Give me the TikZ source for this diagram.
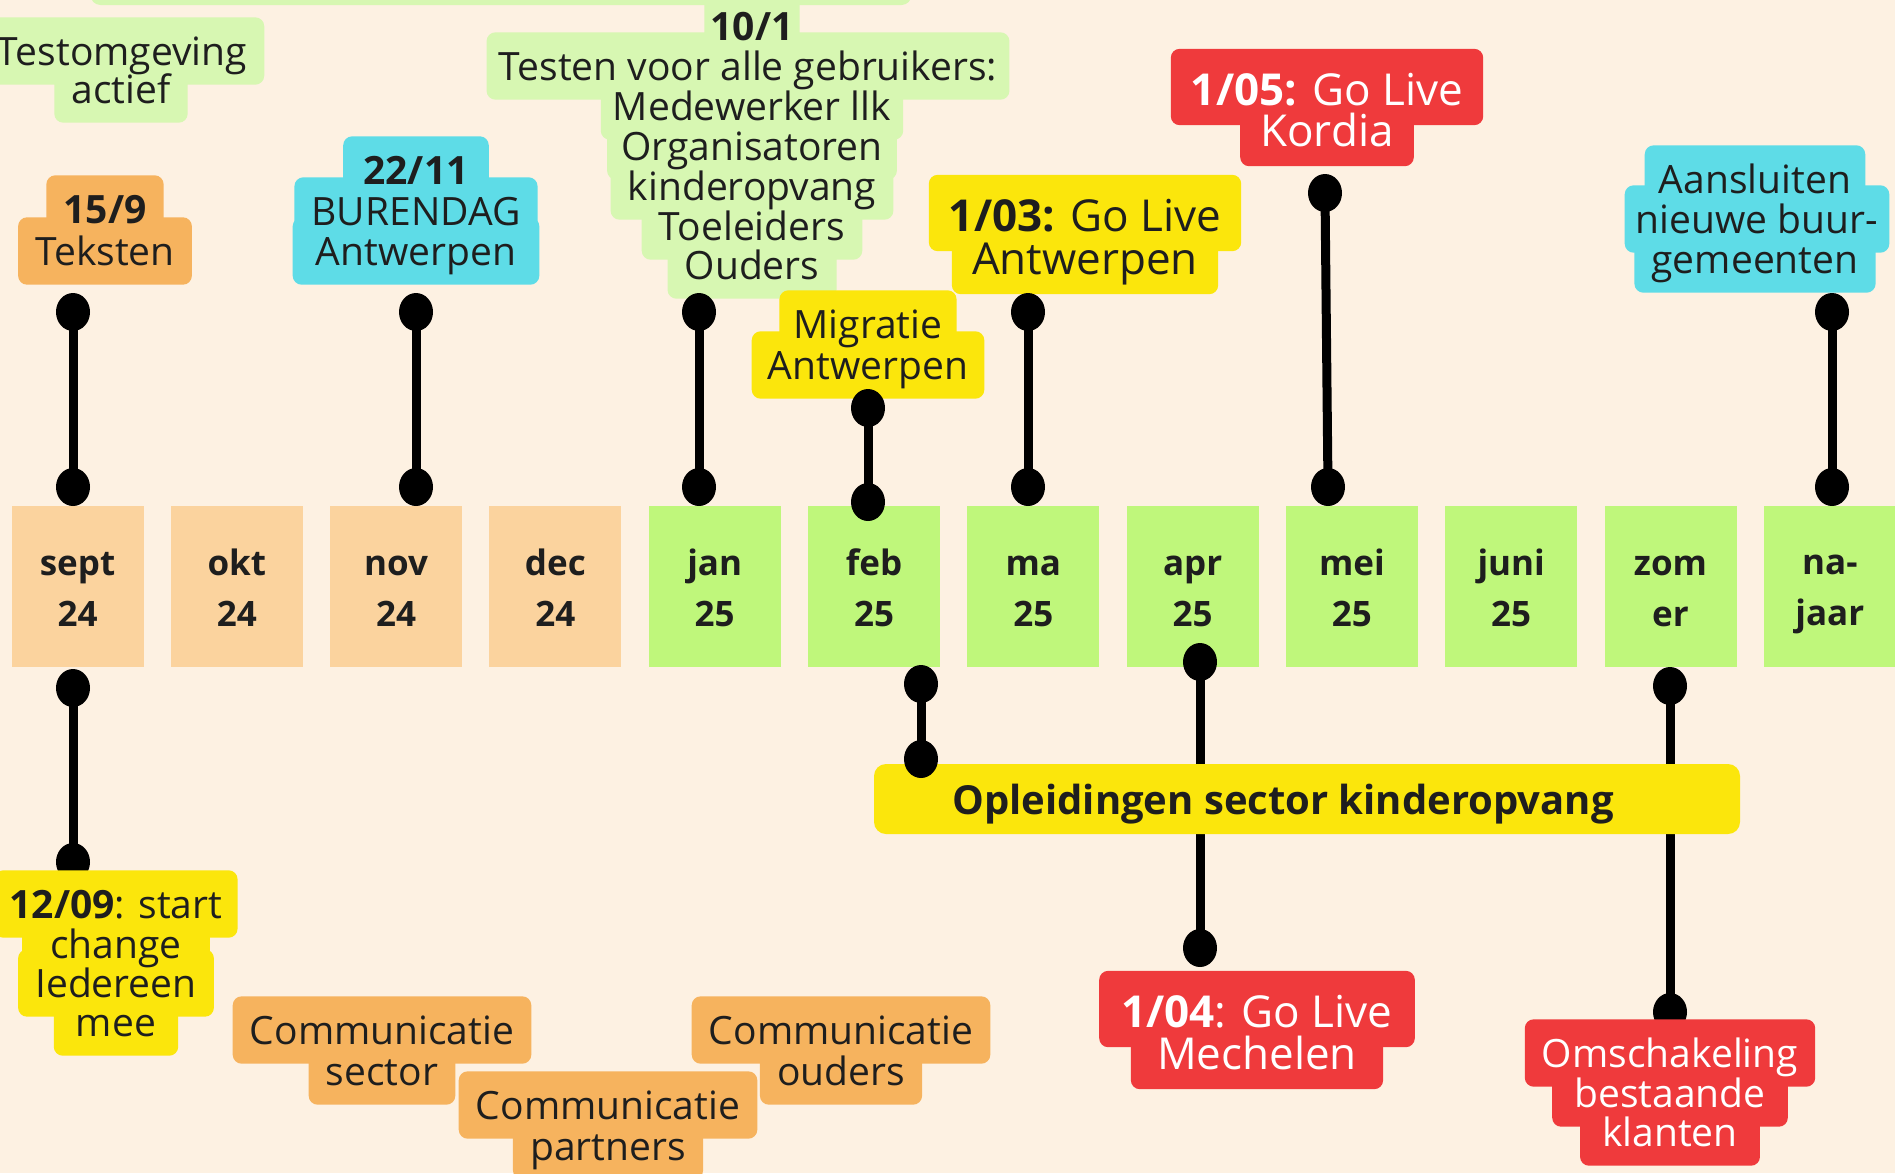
\documentclass[tikz,border=0pt]{standalone}
\usepackage{fontspec}
\setmainfont{Open Sans}
\usetikzlibrary{shapes.geometric}
\definecolor{bgc}{HTML}{FDF1E2}
\definecolor{peach}{HTML}{FBD39E}
\definecolor{mgreen}{HTML}{BFF77B}
\definecolor{lgreen}{HTML}{D7F7B2}
\definecolor{orng}{HTML}{F6B35E}
\definecolor{cyanl}{HTML}{5EDCE7}
\definecolor{yell}{HTML}{FBE60C}
\definecolor{redl}{HTML}{EF3A3C}
\definecolor{txt}{HTML}{1E1E1E}
\newcommand\lblfont{\fontsize{39}{40}\selectfont}
\newcommand\bigfont{\fontsize{44}{44}\selectfont}
\newcommand\monfont{\fontsize{35}{51}\selectfont\bfseries}
\newcommand\mstrut{\rule[-7pt]{0pt}{44pt}}
\newcommand\labfill[2]{\fill[#2, rounded corners=9pt] (#1.south west) rectangle (#1.north east);}
\pgfdeclarelayer{back}
\pgfdeclarelayer{conlow}
\pgfdeclarelayer{fills}
\pgfsetlayers{back,conlow,fills,main}
\tikzset{
  lbl/.style={inner xsep=17pt, inner ysep=10pt,
    text height=38pt, text depth=9pt, font=\lblfont, text=txt},
  lblbig/.style={inner xsep=20pt, inner ysep=13pt,
    text height=43pt, text depth=7pt, font=\bigfont, text=txt},
  month/.style={fill=#1, minimum width=132pt, minimum height=161pt, inner sep=0pt,
    align=center, font=\monfont, text=txt},
  dot/.style={ellipse, fill=black, minimum width=34pt, minimum height=38pt, inner sep=0pt},
  conn/.style={line width=9pt, black},
  bar/.style={fill=yell, rounded corners=12pt, inner sep=0pt, minimum height=70pt,
    text height=36pt, text depth=6pt,
    font=\fontsize{40}{40}\selectfont\bfseries, text=txt}
}
\begin{document}
\begin{tikzpicture}[x=1pt,y=-1pt]
\useasboundingbox (0,0) rectangle (1895,1173);
\begin{pgfonlayer}{back}
\fill[bgc] (0,0) rectangle (1895,1173);
% top bar (cut off)
\node[fill=lgreen, rounded corners=10pt, minimum width=821pt, minimum height=40pt, inner sep=0pt] (topbar) at (501,-15) {};
% month boxes
\foreach \i/\a/\b/\c in {0/sept/24/peach,1/okt/24/peach,2/nov/24/peach,3/dec/24/peach,
  4/jan/25/mgreen,5/feb/25/mgreen,6/ma/25/mgreen,7/apr/25/mgreen,8/mei/25/mgreen,
  9/juni/25/mgreen,10/zom/er/mgreen,11/na-/jaar/mgreen}
  \node[month=\c] (m\i) at ({77.5+159.3*\i},586) {\mstrut\a\\\mstrut\b};
\end{pgfonlayer}

% ---- top labels ----
\node[lbl] (testa) at (122,51) {Testomgeving};
\node[lbl] (testb) at (121,89) {actief};

\node[lbl] (t159a) at (105,209) {\textbf{15/9}};
\node[lbl] (t159b) at (105,251) {Teksten};

\node[lbl, inner xsep=20pt] (burea) at (416,170) {\textbf{22/11}};
\node[lbl] (bureb) at (416,211) {BURENDAG};
\node[lbl, inner xsep=23pt] (burec) at (416,251) {Antwerpen};

\node[lbl, inner xsep=6pt] (tst0) at (752,26) {\textbf{10/1}};
\node[lbl, inner xsep=12pt] (tst1) at (748,66) {Testen voor alle gebruikers:};
\node[lbl, inner xsep=12pt] (tst2) at (752,106) {Medewerker llk};
\node[lbl, inner xsep=14pt] (tst3) at (752,146) {Organisatoren};
\node[lbl] (tst4) at (752,186) {kinderopvang};
\node[lbl] (tst5) at (752,226) {Toeleiders};
\node[lbl] (tst6) at (752,265) {Ouders};

\node[lbl, inner xsep=14pt] (miga) at (868,324) {Migratie};
\node[lbl, inner xsep=16pt] (migb) at (868,365) {Antwerpen};

\node[lblbig] (goaa) at (1085,213) {\textbf{1/03:} Go Live};
\node[lblbig] (goab) at (1085,256) {Antwerpen};

\node[lblbig, text=white] (goka) at (1327,87) {\textbf{1/05:} Go Live};
\node[lblbig, text=white] (gokb) at (1327,128) {Kordia};

\node[lbl, inner xsep=14pt] (aana) at (1755,179) {Aansluiten};
\node[lbl, inner xsep=11pt] (aanb) at (1757,219) {nieuwe buur-};
\node[lbl] (aanc) at (1755,259) {gemeenten};

% ---- bottom labels ----
\node[lbl, inner xsep=15pt] (sta) at (116,904) {\textbf{12/09}: start};
\node[lbl, inner xsep=28pt] (stb) at (116,944) {change};
\node[lbl] (stc) at (116,983) {Iedereen};
\node[lbl, inner xsep=22pt] (std) at (116,1022) {mee};

\node[lbl] (csa) at (382,1030) {Communicatie};
\node[lbl] (csb) at (382,1071) {sector};
\node[lbl] (coa) at (841,1030) {Communicatie};
\node[lbl] (cob) at (841,1071) {ouders};
\node[lbl] (cpa) at (608,1105) {Communicatie};
\node[lbl] (cpb) at (608,1146) {partners};

\node[lblbig, text=white, inner xsep=22pt] (mea) at (1257,1009) {\textbf{1/04}: Go Live};
\node[lblbig, text=white, inner xsep=26pt] (meb) at (1257,1051) {Mechelen};

\node[lbl, text=white] (oma) at (1670,1053) {Omschakeling};
\node[lbl, text=white, inner xsep=22pt] (omb) at (1670,1093) {bestaande};
\node[lbl, text=white, inner xsep=22pt] (omc) at (1670,1132) {klanten};

% ---- label backgrounds ----
\begin{pgfonlayer}{fills}
\foreach \n in {testa,testb,tst0,tst1,tst2,tst3,tst4,tst5,tst6} {\labfill{\n}{lgreen}}
\foreach \n in {t159a,t159b,csa,csb,coa,cob,cpa,cpb} {\labfill{\n}{orng}}
\foreach \n in {burea,bureb,burec,aana,aanb,aanc} {\labfill{\n}{cyanl}}
\foreach \n in {miga,migb,goaa,goab,sta,stb,stc,std} {\labfill{\n}{yell}}
\foreach \n in {goka,gokb,mea,meb,oma,omb,omc} {\labfill{\n}{redl}}
\end{pgfonlayer}

% ---- top connectors ----
\foreach \n/\x/\ya/\yb in {t1/73/312/487, t2/416/312/487, t3/699/312/487,
   t4/868/408/502, t5/1028/312/487, t7/1832/312/487}{
  \node[dot] (\n a) at (\x,\ya) {};
  \node[dot] (\n b) at (\x,\yb) {};
  \draw[conn] (\n a.center) -- (\n b.center);
}
\node[dot] (t6a) at (1325,193) {};
\node[dot] (t6b) at (1328,487) {};
\draw[conn] (t6a.center) -- (t6b.center);

% ---- bottom connectors (behind bar and labels) ----
\begin{pgfonlayer}{conlow}
\foreach \n/\x/\ya/\yb in {b1/73/688/862, b3/1200/662/948, b4/1670/686/1012}{
  \node[dot] (\n a) at (\x,\ya) {};
  \node[dot] (\n b) at (\x,\yb) {};
  \draw[conn] (\n a.center) -- (\n b.center);
}
\end{pgfonlayer}

\node[bar, minimum width=866pt] (opl) at (1307,799) {Opleidingen sector kinderopvang\hspace*{48pt}};

\node[dot] (b2a) at (921,684) {};
\node[dot] (b2b) at (921,759) {};
\draw[conn] (b2a.center) -- (b2b.center);
\end{tikzpicture}
\end{document}
